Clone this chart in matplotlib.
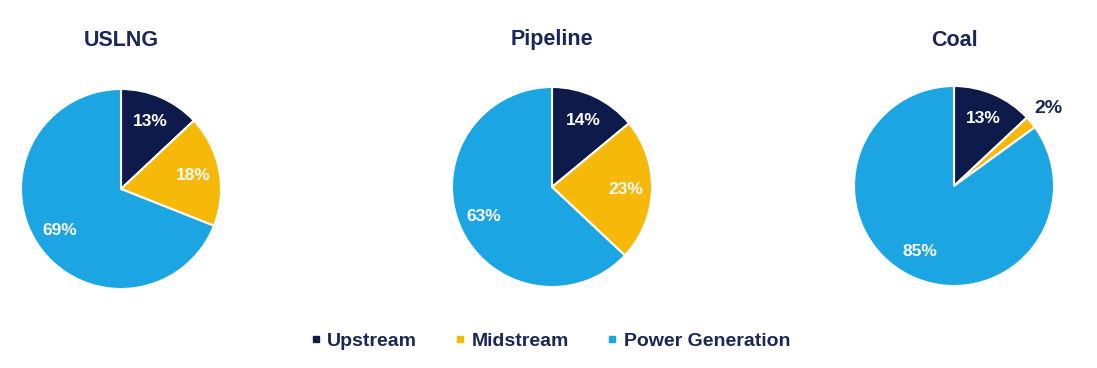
import matplotlib
matplotlib.use('Agg')
import matplotlib.pyplot as plt
from matplotlib.lines import Line2D

plt.rcParams['font.family'] = ['Liberation Sans', 'DejaVu Sans']

NAVY = '#0e1a4a'
GOLD = '#f6b90a'
SKY = '#1ba5e3'
TEXT = '#1b2758'

segments = ['Upstream', 'Midstream', 'Power Generation']
titles = ['USLNG', 'Pipeline', 'Coal']
uslng = [13, 18, 69]
pipeline = [14, 23, 63]
coal = [13, 2, 85]

fig = plt.figure(figsize=(10.97, 3.68), dpi=100)
W, H = 1097.0, 368.0

# pie centres in pixels
centres = [(121, 189), (552, 187), (954, 186)]
radius = 100

for title, vals, (cx, cy) in zip(titles, [uslng, pipeline, coal], centres):
    ax = fig.add_axes([(cx - radius) / W, (H - cy - radius) / H,
                       2 * radius / W, 2 * radius / H])
    wedges, texts, autotexts = ax.pie(
        vals, colors=[NAVY, GOLD, SKY], startangle=90, counterclock=False,
        radius=1.0, autopct='%d%%', pctdistance=0.74,
        wedgeprops=dict(edgecolor='white', linewidth=1.5),
        textprops=dict(color='white', fontsize=12.5, fontweight='bold'))
    for v, t in zip(vals, autotexts):
        if v < 5:
            # small slice: label sits outside the pie
            x, y = t.get_position()
            t.set_position((x * 1.65, y * 1.65))
            t.set_color(TEXT)
            t.set_fontsize(14)
    ax.set_xlim(-1, 1)
    ax.set_ylim(-1, 1)
    ax.set_aspect('equal')
    ax.axis('off')
    fig.text(cx / W, 1 - 40 / H, title, ha='center', va='center',
             fontsize=15.5, fontweight='bold', color=TEXT)

handles = [Line2D([], [], marker='s', linestyle='none', markersize=4.5,
                  markerfacecolor=c, markeredgecolor=c)
           for c in [NAVY, GOLD, SKY]]
leg = fig.legend(handles, segments, loc='center', bbox_to_anchor=(548 / W, 1 - 341 / H),
                 ncol=3, frameon=False, handletextpad=0.1, handlelength=1.0,
                 columnspacing=1.7, prop=dict(size=14, weight='bold'))
for t in leg.get_texts():
    t.set_color(TEXT)

fig.savefig('out.png', dpi=100, facecolor='white')
